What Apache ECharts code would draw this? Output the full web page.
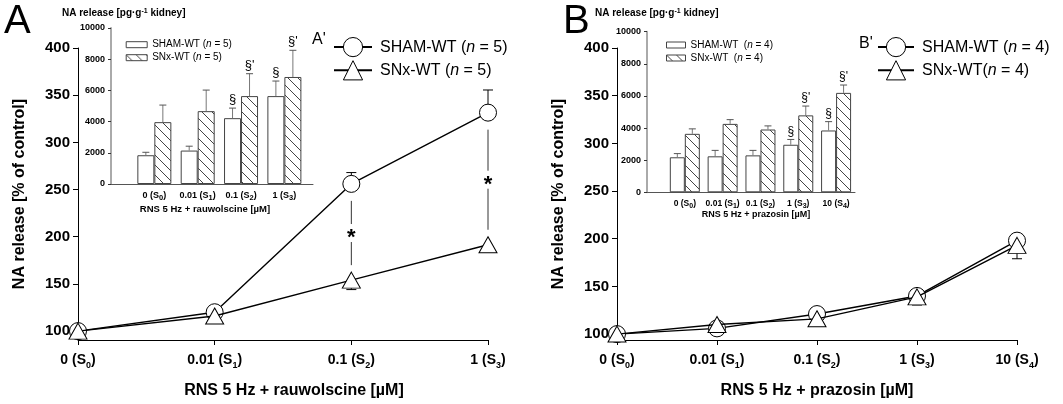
<!DOCTYPE html>
<html><head><meta charset="utf-8">
<script src="https://cdn.jsdelivr.net/npm/echarts@6/dist/echarts.min.js"></script>
<style>html,body{margin:0;padding:0;background:#fff}#c{width:1063px;height:404px}</style>
</head><body><div id="c"></div>
<script>
// ---------- DATA ----------
// Main panel A (rauwolscine), NA release [% of control]
const catA = ['0', '0.01', '0.1', '1'];
const subA = ['0', '1', '2', '3'];
const shamA = [100, 120, 256, 331.5];
const shamA_sem = [1.5, 2.5, 12, 24];
const snxA = [100, 116, 154, 191.5];
const snxA_sem = [1.5, 2.5, 10, 6.5];
const sigA = [2, 3];               // category indices marked with *
// Main panel B (prazosin)
const catB = ['0', '0.01', '0.1', '1', '10'];
const subB = ['0', '1', '2', '3', '4'];
const shamB = [100, 106, 121, 140, 198];
const shamB_sem = [1.5, 2, 2, 3, 6];
const snxB = [100, 110, 116, 139, 193];
const snxB_sem = [1.5, 2, 2, 8.5, 14];
// Inset A', NA release [pg/g kidney]
const insA_sham = [1843, 2143, 4220, 5635];
const insA_shamErr = [190, 280, 645, 965];
const insA_snx = [3965, 4670, 5635, 6860];
const insA_snxErr = [1095, 1350, 1435, 1710];
const insA_shamMark = ['', '', '\u00a7', '\u00a7'];
const insA_snxMark = ['', '', "\u00a7'", "\u00a7'"];
// Inset B'
const insB_sham = [2180, 2240, 2300, 2960, 3850];
const insB_shamErr = [230, 370, 310, 330, 550];
const insB_snx = [3640, 4260, 3910, 4790, 6190];
const insB_snxErr = [310, 265, 225, 580, 490];
const insB_shamMark = ['', '', '', '\u00a7', '\u00a7'];
const insB_snxMark = ['', '', '', "\u00a7'", "\u00a7'"];
// tick values
const yTicksMain = [100, 150, 200, 250, 300, 350, 400];
// legend texts
const nameA = ['SHAM-WT (n = 5)', 'SNx-WT (n = 5)'];
const nameB = ['SHAM-WT (n = 4)', 'SNx-WT(n = 4)'];
const insNames = {
  iA_sham: 'SHAM-WT (n = 5)', iA_snx: 'SNx-WT (n = 5)',
  iB_sham: 'SHAM-WT  (n = 4)', iB_snx: 'SNx-WT  (n = 4)'
};

// ---------- STYLE / BUILD ----------
const FF = '"Liberation Sans", Arial, Helvetica, sans-serif';
const chart = echarts.init(document.getElementById('c'), null, {renderer: 'canvas', width: 1063, height: 404});

function hatch(sp, color) {
  const c = document.createElement('canvas');
  c.width = sp; c.height = sp;
  const g = c.getContext('2d');
  g.fillStyle = '#fff'; g.fillRect(0, 0, sp, sp);
  g.strokeStyle = color; g.lineWidth = 1;
  g.beginPath();
  g.moveTo(-1, -1); g.lineTo(sp + 1, sp + 1);
  g.moveTo(-1, sp - 1); g.lineTo(1, sp + 1);
  g.moveTo(sp - 1, -1); g.lineTo(sp + 1, 1);
  g.stroke();
  return c;
}
const hatchFill = {image: hatch(10, '#444'), repeat: 'repeat'};

const italicRich = (fs) => ({i: {fontStyle: 'italic', fontSize: fs, fontFamily: FF, color: '#000'}});
const fmtItalic = (s) => s.replace('n =', '{i|n} =');

function catFmt(cats, subs) { return (v, i) => `${cats[i]} (S{s|${subs[i]}})`; }
function valFmt(cats, subs) {
  return (v) => {
    const k = Math.round(v);
    if (Math.abs(v - k) > 1e-6 || k < 1 || k > cats.length) return '';
    return `${cats[k - 1]} (S{s|${subs[k - 1]}})`;
  };
}

function mainX(gi, cats, subs, name, namePad) {
  return {
    type: 'category', gridIndex: gi, data: cats.map((c, i) => c + ' (S' + subs[i] + ')'),
    boundaryGap: false,
    axisLine: {lineStyle: {color: '#000', width: 1}},
    axisTick: {show: true, length: 5, inside: false, alignWithLabel: true, lineStyle: {color: '#000'}},
    axisLabel: {
      interval: 0, margin: 10, formatter: catFmt(cats, subs),
      fontSize: 14, fontWeight: 'bold', fontFamily: FF, color: '#000', lineHeight: 20,
      rich: {s: {fontSize: 9, fontWeight: 'bold', fontFamily: FF, color: '#000', lineHeight: 10, verticalAlign: 'bottom'}}
    },
    name: name, nameLocation: 'middle', nameGap: 43,
    nameTextStyle: {fontSize: 16, fontWeight: 'bold', fontFamily: FF, color: '#000', padding: namePad},
    splitLine: {show: false}
  };
}
function mainY(gi, min) {
  return {
    type: 'value', gridIndex: gi, min: min, max: 400, splitNumber: 6,
    axisLine: {show: true, lineStyle: {color: '#000', width: 1}},
    axisTick: {show: true, length: 5, customValues: yTicksMain, lineStyle: {color: '#000'}},
    axisLabel: {
      customValues: yTicksMain, margin: 8,
      formatter: (v) => (Math.abs(v % 50) < 1e-6 ? String(v) : ''),
      fontSize: 15, fontWeight: 'bold', fontFamily: FF, color: '#000'
    },
    name: 'NA release [% of control]', nameLocation: 'middle', nameGap: 50, nameRotate: 90,
    nameTextStyle: {fontSize: 16, fontWeight: 'bold', fontFamily: FF, color: '#000'},
    splitLine: {show: false}
  };
}
function insetX(gi, cats, subs, max, name, fs, nameGap, namePad, lblMargin) {
  return {
    type: 'value', gridIndex: gi, min: 0, max: max, interval: 1,
    axisLine: {show: true, onZero: false, lineStyle: {color: '#555', width: 1}},
    axisTick: {show: false},
    axisLabel: {
      formatter: valFmt(cats, subs), margin: lblMargin, showMaxLabel: false,
      fontSize: fs, fontWeight: 'bold', fontFamily: FF, color: '#000', lineHeight: 12,
      rich: {s: {fontSize: fs - 1.5, fontWeight: 'bold', fontFamily: FF, color: '#000', lineHeight: 6, verticalAlign: 'bottom'}}
    },
    name: name, nameLocation: 'middle', nameGap: nameGap,
    nameTextStyle: {fontSize: fs + 0.5, fontWeight: 'bold', fontFamily: FF, color: '#000', padding: namePad},
    splitLine: {show: false}
  };
}
function insetY(gi) {
  return {
    type: 'value', gridIndex: gi, min: 0, max: 10000, interval: 2000,
    axisLine: {show: true, lineStyle: {color: '#aaa', width: 2}},
    axisTick: {show: true, length: 3, lineStyle: {color: '#333'}},
    axisLabel: {margin: 6, fontSize: 9, fontWeight: 'bold', fontFamily: FF, color: '#000',
      formatter: (v) => String(v)},
    splitLine: {show: false}
  };
}

function lineSeries(name, gi, data, symbol, size, z) {
  return {
    type: 'line', name: name, xAxisIndex: gi, yAxisIndex: gi, data: data,
    symbol: symbol, symbolSize: size, showSymbol: true, z: z,
    itemStyle: {color: '#fff', borderColor: '#000', borderWidth: 1},
    lineStyle: {color: '#000', width: 1.4},
    emphasis: {disabled: true}, animation: false
  };
}
function mainErr(gi, vals, sems, dir) {
  return {
    type: 'custom', xAxisIndex: gi, yAxisIndex: gi, z: 1, silent: true, animation: false,
    data: vals.map((v, i) => [i, v, v + dir * sems[i]]),
    renderItem(params, api) {
      const p0 = api.coord([api.value(0), api.value(1)]);
      const p1 = api.coord([api.value(0), api.value(2)]);
      return {type: 'group', children: [
        {type: 'line', shape: {x1: p0[0], y1: p0[1], x2: p1[0], y2: p1[1]}, style: {stroke: '#000', lineWidth: 1}},
        {type: 'line', shape: {x1: p1[0] - 5, y1: p1[1], x2: p1[0] + 5, y2: p1[1]}, style: {stroke: '#000', lineWidth: 1}}
      ]};
    }
  };
}
function sigSeries(gi, idx, top, bot) {
  return {
    type: 'custom', xAxisIndex: gi, yAxisIndex: gi, z: 1, silent: true, animation: false,
    data: idx.map(i => [i, top[i], bot[i]]),
    renderItem(params, api) {
      const a = api.coord([api.value(0), api.value(1)]);
      const b = api.coord([api.value(0), api.value(2)]);
      const x = a[0], ya = a[1] + 17, yb = b[1] - 15, mid = (ya + yb) / 2;
      return {type: 'group', children: [
        {type: 'line', shape: {x1: x, y1: ya, x2: x, y2: mid - 9}, style: {stroke: '#333', lineWidth: 1}},
        {type: 'line', shape: {x1: x, y1: mid + 9, x2: x, y2: yb}, style: {stroke: '#333', lineWidth: 1}},
        {type: 'text', style: {text: '*', x: x, y: mid + 5, align: 'center', verticalAlign: 'middle',
          fontSize: 22, fontWeight: 'bold', fontFamily: FF, fill: '#000'}}
      ]};
    }
  };
}
function barSeries(name, gi, vals, fill, bw) {
  return {
    type: 'bar', name: name, xAxisIndex: gi, yAxisIndex: gi, z: 3, animation: false,
    data: vals.map((v, i) => [i + 1, v]), barWidth: bw, barGap: '0%',
    itemStyle: {color: fill, borderColor: '#444', borderWidth: 1},
    emphasis: {disabled: true}
  };
}
function barErr(gi, vals, errs, marks, side, bw, fs) {
  return {
    type: 'custom', xAxisIndex: gi, yAxisIndex: gi, z: 4, silent: true, animation: false,
    data: vals.map((v, i) => [i + 1, v, v + errs[i]]),
    renderItem(params, api) {
      const p0 = api.coord([api.value(0), api.value(1)]);
      const p1 = api.coord([api.value(0), api.value(2)]);
      const cx = p0[0] + side * bw / 2;
      const ch = [
        {type: 'line', shape: {x1: cx, y1: p0[1], x2: cx, y2: p1[1]}, style: {stroke: '#777', lineWidth: 1}},
        {type: 'line', shape: {x1: cx - 3.5, y1: p1[1], x2: cx + 3.5, y2: p1[1]}, style: {stroke: '#555', lineWidth: 1}}
      ];
      const m = marks[params.dataIndex];
      if (m) ch.push({type: 'text', style: {text: m, x: cx, y: p1[1] - 2, align: 'center', verticalAlign: 'bottom',
        fontSize: fs, fontFamily: FF, fill: '#000'}});
      return {type: 'group', children: ch};
    }
  };
}

const mainLegend = (names, left, top, iw) => ({
  data: names, orient: 'vertical', left: left, top: top, itemWidth: iw, itemHeight: 24, itemGap: 3,
  selectedMode: false, padding: 0,
  itemStyle: {borderColor: '#000', borderWidth: 1},
  textStyle: {fontSize: 16, fontFamily: FF, color: '#000', padding: [0, 0, 0, 3], rich: italicRich(16)},
  formatter: fmtItalic
});
const insetLegend = (names, left, top, iw) => ({
  data: names, orient: 'vertical', left: left, top: top, itemWidth: iw, itemHeight: 6, itemGap: 1,
  icon: 'rect', selectedMode: false, padding: 0,
  itemStyle: {borderColor: '#444', borderWidth: 1},
  textStyle: {fontSize: 10, lineHeight: 12, fontFamily: FF, color: '#000', rich: italicRich(10)},
  formatter: (n) => fmtItalic(insNames[n])
});

const txt = (text, x, y, fs, extra) => ({
  type: 'text', silent: true, z: 10,
  style: Object.assign({text: text, x: x, y: y, fontSize: fs, fontFamily: FF, fill: '#000',
    align: 'left', verticalAlign: 'middle'}, extra || {})
});
const supRich = {sup: {fontSize: 7, fontWeight: 'bold', fontFamily: FF, fill: '#000', lineHeight: 7, verticalAlign: 'top'}};

const option = {
  backgroundColor: '#fff',
  animation: false,
  grid: [
    {left: 78, top: 48, width: 410, height: 295.3},
    {left: 617, top: 48, width: 400, height: 295.3},
    {left: 111, top: 28, width: 202, height: 156},
    {left: 647, top: 31.7, width: 208, height: 160.6}
  ],
  xAxis: [
    mainX(0, catA, subA, 'RNS 5 Hz + rauwolscine [\u00b5M]', [0, 0, 0, 22]),
    mainX(1, catB, subB, 'RNS 5 Hz + prazosin [\u00b5M]', [0, 0, 0, 0]),
    insetX(2, catA, subA, 4.66, 'RNS 5 Hz + rauwolscine [\u00b5M]', 9, 20, [0, 14, 0, 0], 6),
    insetX(3, catB, subB, 5.5, 'RNS 5 Hz + prazosin [\u00b5M]', 8.5, 16, [0, 0, 0, 10], 5)
  ],
  yAxis: [mainY(0, 90.57), mainY(1, 93.8), insetY(2), insetY(3)],
  legend: [
    mainLegend(nameA, 333, 37, 38),
    mainLegend(nameB, 877, 37, 36),
    insetLegend(['iA_sham', 'iA_snx'], 125.7, 38.7, 21),
    insetLegend(['iB_sham', 'iB_snx'], 666, 39, 19)
  ],
  graphic: [
    txt('A', 4, 22, 40),
    txt('B', 563, 22, 40),
    txt("A'", 312, 40, 16),
    txt("B'", 859, 44, 16),
    txt('NA release [pg\u00b7g{sup|-1} kidney]', 62, 13, 10, {fontWeight: 'bold', rich: supRich}),
    txt('NA release [pg\u00b7g{sup|-1} kidney]', 595, 13, 10, {fontWeight: 'bold', rich: supRich})
  ],
  series: [
    mainErr(0, shamA, shamA_sem, 1),
    mainErr(0, snxA, snxA_sem, -1),
    sigSeries(0, sigA, shamA, snxA),
    lineSeries(nameA[0], 0, shamA, 'circle', 17, 2),
    lineSeries(nameA[1], 0, snxA, 'triangle', [18, 16], 3),
    mainErr(1, shamB, shamB_sem, 1),
    mainErr(1, snxB, snxB_sem, -1),
    lineSeries(nameB[0], 1, shamB, 'circle', 17, 2),
    lineSeries(nameB[1], 1, snxB, 'triangle', [18, 16], 3),
    barSeries('iA_sham', 2, insA_sham, '#fff', 17),
    barSeries('iA_snx', 2, insA_snx, hatchFill, 17),
    barErr(2, insA_sham, insA_shamErr, insA_shamMark, -1, 17, 13),
    barErr(2, insA_snx, insA_snxErr, insA_snxMark, 1, 17, 13),
    barSeries('iB_sham', 3, insB_sham, '#fff', 15),
    barSeries('iB_snx', 3, insB_snx, hatchFill, 15),
    barErr(3, insB_sham, insB_shamErr, insB_shamMark, -1, 15, 12),
    barErr(3, insB_snx, insB_snxErr, insB_snxMark, 1, 15, 12)
  ]
};
chart.setOption(option);
</script>
</body></html>
